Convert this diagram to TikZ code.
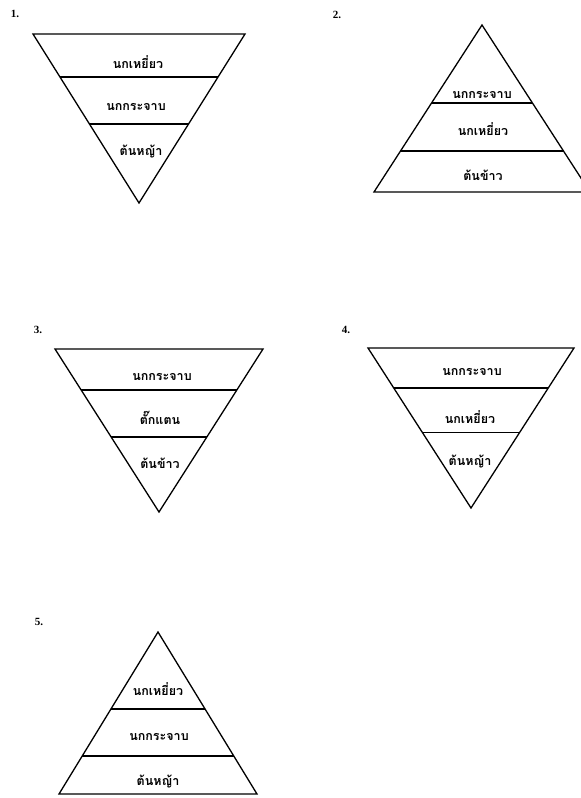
\documentclass[tikz,border=0pt]{standalone}
\usepackage{fontspec}
\setmainfont{Liberation Serif}
\newfontfamily\thaifont[Script=Thai]{Loma}
\usetikzlibrary{calc}

\begin{document}
\begin{tikzpicture}[
    x=1pt, y=-1pt,
    tier/.style={font=\thaifont\bfseries\fontsize{12.5}{13}\selectfont, inner sep=0pt},
    num/.style={font=\bfseries\fontsize{11}{12}\selectfont, inner sep=0pt},
    edge/.style={line width=1.3pt, line join=miter},
  ]
    \useasboundingbox (0,0) rectangle (581,798);

    % 1. inverted
    \coordinate (p1l) at (33,34);
    \coordinate (p1r) at (245,34);
    \coordinate (p1a) at (139,203);
    \draw[edge] (p1l) -- (p1r) -- (p1a) -- cycle;
    \draw[edge] ($(p1l)!0.254!(p1a)$) -- ($(p1r)!0.254!(p1a)$);
    \draw[edge] ($(p1l)!0.533!(p1a)$) -- ($(p1r)!0.533!(p1a)$);
    \node[num] (n1) at (15,14) {1.};
    \node[tier] (p1t1) at (138,62) {นกเหยี่ยว};
    \node[tier] (p1t2) at (136,107) {นกกระจาบ};
    \node[tier] (p1t3) at (141,152) {ต้นหญ้า};

    % 2. upright
    \coordinate (p2a) at (482,25);
    \coordinate (p2l) at (374,192);
    \coordinate (p2r) at (590,192);
    \draw[edge] (p2a) -- (p2l) -- (p2r) -- cycle;
    \draw[edge] ($(p2a)!0.467!(p2l)$) -- ($(p2a)!0.467!(p2r)$);
    \draw[edge] ($(p2a)!0.754!(p2l)$) -- ($(p2a)!0.754!(p2r)$);
    \node[num] (n2) at (337,15) {2.};
    \node[tier] (p2t1) at (482,95) {นกกระจาบ};
    \node[tier] (p2t2) at (483,129) {นกเหยี่ยว};
    \node[tier] (p2t3) at (483,175) {ต้นข้าว};

    % 3. inverted
    \coordinate (p3l) at (55,349);
    \coordinate (p3r) at (263,349);
    \coordinate (p3a) at (159,512);
    \draw[edge] (p3l) -- (p3r) -- (p3a) -- cycle;
    \draw[edge] ($(p3l)!0.252!(p3a)$) -- ($(p3r)!0.252!(p3a)$);
    \draw[edge] ($(p3l)!0.54!(p3a)$) -- ($(p3r)!0.54!(p3a)$);
    \node[num] (n3) at (38,330) {3.};
    \node[tier] (p3t1) at (162,377) {นกกระจาบ};
    \node[tier] (p3t2) at (160,418) {ตั๊กแตน};
    \node[tier] (p3t3) at (160,463) {ต้นข้าว};

    % 4. inverted
    \coordinate (p4l) at (368,348);
    \coordinate (p4r) at (574,348);
    \coordinate (p4a) at (471,508);
    \draw[edge] (p4l) -- (p4r) -- (p4a) -- cycle;
    \draw[edge] ($(p4l)!0.25!(p4a)$) -- ($(p4r)!0.25!(p4a)$);
    \draw[edge] ($(p4l)!0.53!(p4a)$) -- ($(p4r)!0.53!(p4a)$);
    \node[num] (n4) at (346,330) {4.};
    \node[tier] (p4t1) at (472,372) {นกกระจาบ};
    \node[tier] (p4t2) at (470,417) {นกเหยี่ยว};
    \node[tier] (p4t3) at (470,462) {ต้นหญ้า};

    % 5. upright
    \coordinate (p5a) at (158,632);
    \coordinate (p5l) at (59,794);
    \coordinate (p5r) at (257,794);
    \draw[edge] (p5a) -- (p5l) -- (p5r) -- cycle;
    \draw[edge] ($(p5a)!0.475!(p5l)$) -- ($(p5a)!0.475!(p5r)$);
    \draw[edge] ($(p5a)!0.765!(p5l)$) -- ($(p5a)!0.765!(p5r)$);
    \node[num] (n5) at (39,622) {5.};
    \node[tier] (p5t1) at (158,689) {นกเหยี่ยว};
    \node[tier] (p5t2) at (159,737) {นกกระจาบ};
    \node[tier] (p5t3) at (158,782) {ต้นหญ้า};
  \end{tikzpicture}
\end{document}
